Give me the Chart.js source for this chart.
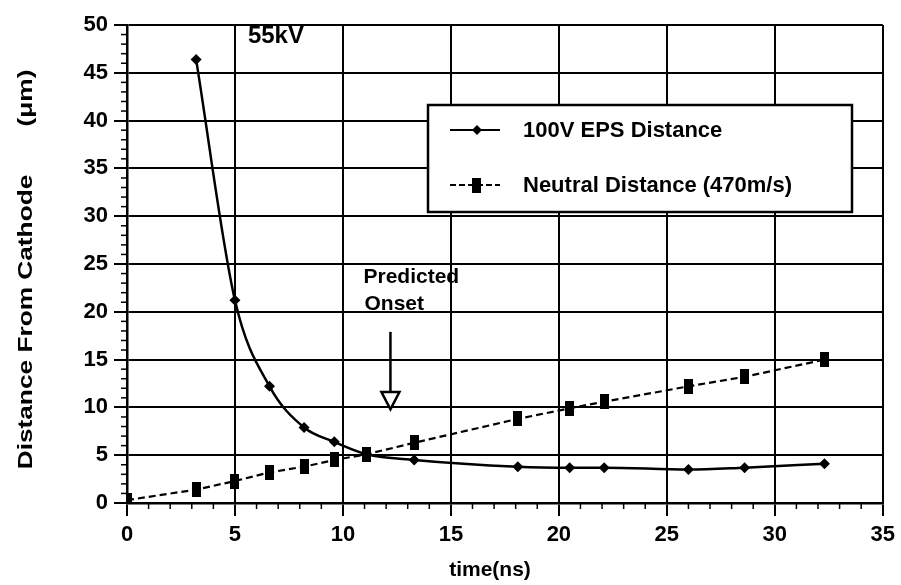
<!DOCTYPE html>
<html>
<head>
<meta charset="utf-8">
<script src="https://cdn.jsdelivr.net/npm/chart.js@4.4.1/dist/chart.umd.min.js"></script>
<style>
  html, body { margin: 0; padding: 0; background: #fff; }
  #wrap { width: 901px; height: 585px; position: relative; }
</style>
</head>
<body>
<div id="wrap"><canvas id="chart" width="901" height="585"></canvas></div>
<script>
// данные
const epsTime = [3.2, 5.0, 6.6, 8.2, 9.6, 11.1, 13.3, 18.1, 20.5, 22.1, 26.0, 28.6, 32.3];
const epsDist = [46.4, 21.2, 12.2, 7.9, 6.4, 5.1, 4.5, 3.8, 3.7, 3.7, 3.5, 3.7, 4.1];

const neutralTime = [0, 3.2, 5.0, 6.6, 8.2, 9.6, 11.1, 13.3, 18.1, 20.5, 22.1, 26.0, 28.6, 32.3];
const neutralDist = [0.3, 1.4, 2.3, 3.2, 3.8, 4.5, 5.1, 6.3, 8.8, 9.9, 10.6, 12.2, 13.2, 15.0];

const seriesLabels = ['100V EPS Distance', 'Neutral Distance (470m/s)'];
const xTitle = 'time(ns)';
const yTitle = 'Distance From Cathode';
const yUnit = '(μm)';
const voltageLabel = '55kV';
const onsetLabel = ['Predicted', 'Onset'];

const FONT = '"Liberation Sans", Arial, sans-serif';

// маркер-прямоугольник для нейтральной серии (выше, чем шире)
function makeBar(w, h) {
    const c = document.createElement('canvas');
    c.width = w; c.height = h;
    const g = c.getContext('2d');
    g.fillStyle = '#000';
    g.fillRect(0, 0, w, h);
    return c;
}
const barMarker = makeBar(9, 15);

// мелкие засечки + подписи + легенда
const decorPlugin = {
    id: 'decor',
    afterDraw(chart) {
        const { ctx, chartArea: a, scales: { x, y } } = chart;
        ctx.save();
        ctx.strokeStyle = '#000';
        ctx.lineWidth = 1.5;
        // minor ticks
        for (let v = 1; v < 50; v++) {
            if (v % 5 === 0) continue;
            const py = y.getPixelForValue(v);
            ctx.beginPath(); ctx.moveTo(a.left - 6, py); ctx.lineTo(a.left, py); ctx.stroke();
        }
        for (let v = 1; v < 35; v++) {
            if (v % 5 === 0) continue;
            const px = x.getPixelForValue(v);
            ctx.beginPath(); ctx.moveTo(px, a.bottom); ctx.lineTo(px, a.bottom + 6); ctx.stroke();
        }

        ctx.fillStyle = '#000';
        // 55kV
        ctx.font = 'bold 24px ' + FONT;
        ctx.textAlign = 'left';
        ctx.textBaseline = 'middle';
        ctx.fillText(voltageLabel, x.getPixelForValue(5.6), y.getPixelForValue(48.8));

        // Predicted Onset
        ctx.font = 'bold 21px ' + FONT;
        ctx.fillText(onsetLabel[0], x.getPixelForValue(10.95), y.getPixelForValue(23.6));
        ctx.fillText(onsetLabel[1], x.getPixelForValue(11.0), y.getPixelForValue(20.8));

        // стрелка
        const ax = x.getPixelForValue(12.2);
        const aTop = y.getPixelForValue(17.9);
        const triTop = y.getPixelForValue(11.6);
        const tip = y.getPixelForValue(9.8);
        ctx.lineWidth = 2.5;
        ctx.beginPath(); ctx.moveTo(ax, aTop); ctx.lineTo(ax, triTop); ctx.stroke();
        ctx.fillStyle = '#fff';
        ctx.beginPath();
        ctx.moveTo(ax - 9, triTop); ctx.lineTo(ax + 9, triTop); ctx.lineTo(ax, tip); ctx.closePath();
        ctx.fill(); ctx.stroke();

        // легенда
        const lx = 428, ly = 105, lw = 424, lh = 107;
        ctx.fillStyle = '#fff';
        ctx.fillRect(lx, ly, lw, lh);
        ctx.lineWidth = 2.5;
        ctx.strokeRect(lx, ly, lw, lh);
        ctx.fillStyle = '#000';
        ctx.font = 'bold 22px ' + FONT;
        const rows = [130, 185];
        rows.forEach((ry, i) => {
            ctx.lineWidth = 2;
            ctx.setLineDash(i === 1 ? [6, 3] : []);
            ctx.beginPath(); ctx.moveTo(450, ry); ctx.lineTo(500, ry); ctx.stroke();
            ctx.setLineDash([]);
            if (i === 0) {
                ctx.beginPath();
                ctx.moveTo(477, ry - 5); ctx.lineTo(482, ry); ctx.lineTo(477, ry + 5); ctx.lineTo(472, ry);
                ctx.closePath(); ctx.fill();
            } else {
                ctx.drawImage(barMarker, 472, ry - 7);
            }
            ctx.fillText(chart.data.datasets[i].label, 523, ry + 1);
        });

        // заголовки осей
        ctx.font = 'bold 21px ' + FONT;
        ctx.textAlign = 'center';
        ctx.fillText(xTitle, 490, 570);

        // подпись оси Y растянута по длине, как на скане
        const k = 1.25;
        ctx.save();
        ctx.translate(26, 0);
        ctx.rotate(-Math.PI / 2);
        ctx.scale(k, 1);
        ctx.font = 'bold 21px ' + FONT;
        ctx.fillText(yTitle, -322 / k, 0);
        ctx.fillText(yUnit, -98 / k, 0);
        ctx.restore();

        ctx.restore();
    }
};

const chart = new Chart(document.getElementById('chart'), {
    type: 'scatter',
    data: {
        datasets: [
            {
                label: seriesLabels[0],
                data: epsTime.map((t, i) => ({ x: t, y: epsDist[i] })),
                showLine: true,
                borderColor: '#000',
                backgroundColor: '#000',
                borderWidth: 2.5,
                cubicInterpolationMode: 'monotone',
                pointStyle: 'rectRot',
                pointRadius: 5.5,
                pointBorderWidth: 0
            },
            {
                label: seriesLabels[1],
                data: neutralTime.map((t, i) => ({ x: t, y: neutralDist[i] })),
                showLine: true,
                borderColor: '#000',
                backgroundColor: '#000',
                borderWidth: 2.2,
                borderDash: [7, 4],
                tension: 0,
                pointStyle: barMarker,
                pointRadius: 7
            }
        ]
    },
    options: {
        responsive: false,
        animation: false,
        layout: { padding: { top: 25, right: 15, left: 0, bottom: 0 } },
        plugins: {
            legend: { display: false },
            tooltip: { enabled: false }
        },
        scales: {
            x: {
                type: 'linear',
                min: 0, max: 35,
                ticks: {
                    stepSize: 5,
                    color: '#000',
                    padding: 6,
                    font: { family: FONT, size: 22, weight: 'bold' }
                },
                grid: { color: '#000', lineWidth: 2, tickLength: 13, tickWidth: 2 },
                border: { color: '#000', width: 2.5 },
                afterFit(s) { s.height = 82; }
            },
            y: {
                min: 0, max: 50,
                ticks: {
                    stepSize: 5,
                    color: '#000',
                    padding: 6,
                    font: { family: FONT, size: 22, weight: 'bold' }
                },
                grid: { color: '#000', lineWidth: 2, tickLength: 13, tickWidth: 2 },
                border: { color: '#000', width: 2.5 },
                afterFit(s) { s.width = 127; }
            }
        }
    },
    plugins: [decorPlugin]
});
</script>
</body>
</html>
